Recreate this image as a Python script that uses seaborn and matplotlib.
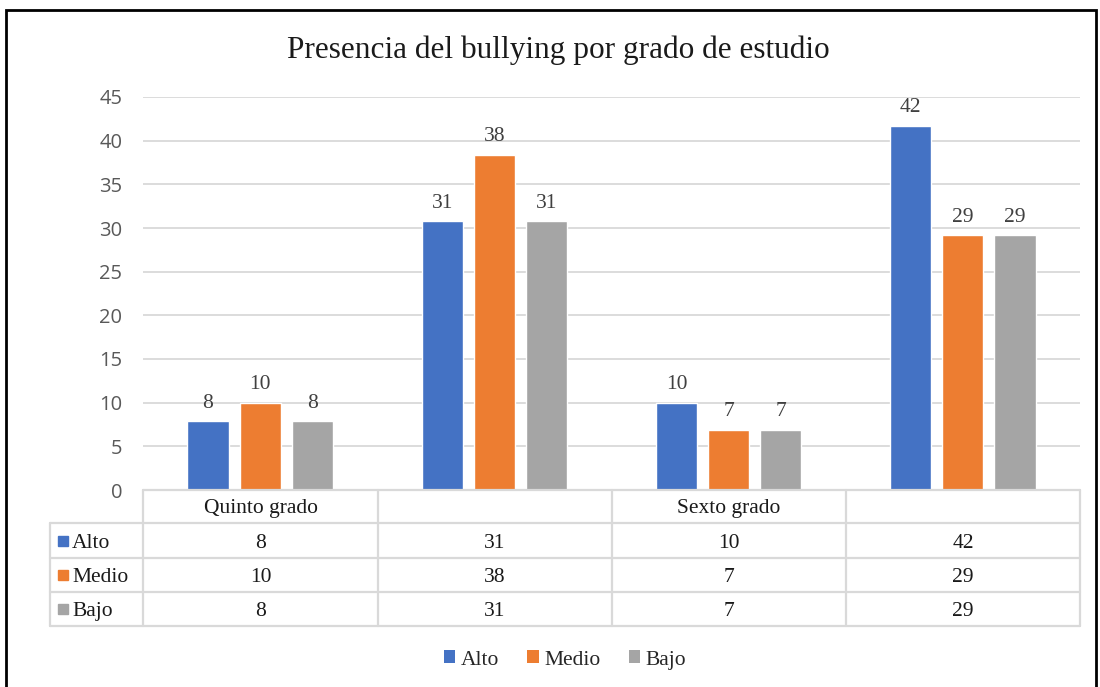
import matplotlib
matplotlib.use("Agg")
import matplotlib.pyplot as plt
from matplotlib.patches import Rectangle, Patch
from matplotlib.lines import Line2D
import seaborn as sns
import pandas as pd

# ---- data ----
title = "Presencia del bullying por grado de estudio"
categories = ["Quinto grado", "", "Sexto grado", ""]
series = ["Alto", "Medio", "Bajo"]
alto = [7.9, 30.8, 10.0, 41.7]
medio = [10.0, 38.4, 6.9, 29.2]
bajo = [7.9, 30.8, 6.9, 29.2]
yticks = [0, 5, 10, 15, 20, 25, 30, 35, 40, 45]
colors = ["#4472C4", "#ED7D31", "#A5A5A5"]

values = {"Alto": alto, "Medio": medio, "Bajo": bajo}
rows = []
for s in series:
    for i, v in enumerate(values[s]):
        rows.append({"grupo": i, "nivel": s, "valor": v})
df = pd.DataFrame(rows)

sns.set_theme(style="white")
plt.rcParams["font.family"] = ["Liberation Serif", "DejaVu Serif"]

FS = 15.5
W, H = 1100, 687
fig = plt.figure(figsize=(W / 100, H / 100), dpi=100)
def fx(x): return x / W
def fy(y): return 1 - y / H

L, R, T, B = 143, 1080, 97, 490
ax = fig.add_axes([fx(L), fy(B), fx(R) - fx(L), fy(T) - fy(B)])
sns.barplot(data=df, x="grupo", y="valor", hue="nivel", order=[0, 1, 2, 3],
            hue_order=series, palette=colors, width=0.667, gap=0.21,
            legend=False, ax=ax, saturation=1, errorbar=None)

ax.set_xlim(-0.5, 3.5)
ax.set_ylim(0, 45)
ax.set_yticks(yticks)
ax.set_yticklabels([str(t) for t in yticks], fontfamily="Open Sans",
                   fontsize=14.5, color="#595959")
ax.tick_params(axis="y", length=0, pad=15)
ax.set_xticks([])
ax.set_xlabel("")
ax.set_ylabel("")
for sp in ax.spines.values():
    sp.set_visible(False)
ax.yaxis.grid(True, color="#D9D9D9", linewidth=1.3)
ax.set_axisbelow(True)

for cont, s in zip(ax.containers, series):
    ax.bar_label(cont, labels=[f"{v:.0f}" for v in values[s]], padding=6,
                 fontsize=FS, color="#404040", fontfamily="Liberation Serif")

# title
fig.text(fx(558), fy(50), title, ha="center", va="center", fontsize=22.5,
         color="#1a1a1a")

# ---- data table ----
gc = "#D9D9D9"
lw = 1.6
col_edges = [143, 378, 612, 846, 1080]
row_edges = [490, 523, 558, 592, 626]
def hline(x0, x1, y):
    fig.add_artist(Line2D([fx(x0), fx(x1)], [fy(y), fy(y)], color=gc, lw=lw,
                          transform=fig.transFigure))
def vline(x, y0, y1):
    fig.add_artist(Line2D([fx(x), fx(x)], [fy(y0), fy(y1)], color=gc, lw=lw,
                          transform=fig.transFigure))
hline(143, 1080, 490)
for y in row_edges[1:]:
    hline(50, 1080, y)
vline(50, 523, 626)
for x in col_edges:
    vline(x, 490, 626)

centers_x = [(col_edges[i] + col_edges[i + 1]) / 2 for i in range(4)]
centers_y = [(row_edges[i] + row_edges[i + 1]) / 2 for i in range(4)]
for cx, c in zip(centers_x, categories):
    fig.text(fx(cx), fy(centers_y[0]), c, ha="center", va="center_baseline",
             fontsize=FS, color="#1a1a1a")
for r, s in enumerate(series):
    cy = centers_y[r + 1]
    fig.add_artist(Rectangle((fx(58), fy(cy + 5)), fx(10), 10 / H,
                             color=colors[r], transform=fig.transFigure))
    fig.text(fx(72), fy(cy), s, ha="left", va="center_baseline", fontsize=FS,
             color="#1a1a1a")
    for cx, v in zip(centers_x, values[s]):
        fig.text(fx(cx), fy(cy), f"{v:.0f}", ha="center", va="center_baseline",
                 fontsize=FS, color="#1a1a1a")

# legend
handles = [Patch(facecolor=c, edgecolor="none", label=s) for c, s in zip(colors, series)]
fig.legend(handles=handles, loc="center", bbox_to_anchor=(fx(565), fy(660)),
           ncol=3, frameon=False, handlelength=0.55, handleheight=0.55,
           handletextpad=0.25, columnspacing=1.3,
           prop={"family": "Liberation Serif", "size": FS})

# outer border
fig.add_artist(Rectangle((fx(6), -0.02), fx(1096) - fx(6), fy(10) + 0.02,
                         fill=False, edgecolor="black", lw=2,
                         transform=fig.transFigure))

fig.savefig("out.png", dpi=100)
